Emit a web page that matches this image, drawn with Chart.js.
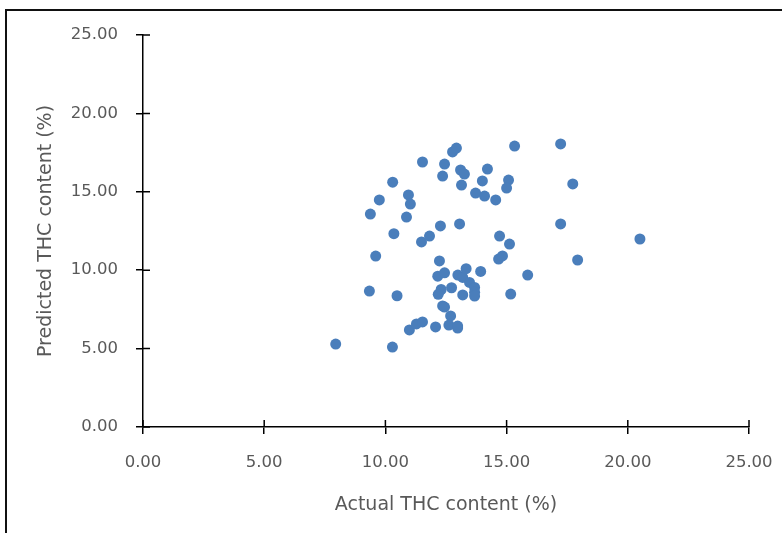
<!DOCTYPE html>
<html>
<head>
<meta charset="utf-8">
<script src="https://cdn.jsdelivr.net/npm/chart.js@4.4.1/dist/chart.umd.min.js"></script>
<style>
  html, body { margin: 0; padding: 0; background: #fff; overflow: hidden; }
  #wrap { position: relative; width: 782px; height: 533px; }
  #frame { position: absolute; left: 5px; top: 9px; right: -5px; bottom: -5px;
           border-left: 2px solid #111; border-top: 2px solid #111; pointer-events: none; }
</style>
</head>
<body>
<div id="wrap">
  <canvas id="chart" width="782" height="533"></canvas>
  <div id="frame"></div>
</div>
<script>
// measured vs predicted THC content (%)
const actualTHC = [
  7.95, 10.29, 9.34, 10.48, 9.6, 9.38, 9.75, 10.3, 10.35, 10.87,
  10.95, 11.03, 11.53, 11.49, 11.82, 10.99, 11.28, 11.53, 12.07, 12.27,
  12.36, 12.44, 12.23, 12.16, 12.44, 12.30, 12.18, 12.36, 12.44, 12.73,
  12.69, 12.62, 12.98, 12.98, 12.77, 12.93, 13.06, 13.1, 13.26, 13.14,
  12.99, 13.19, 13.33, 13.19, 13.47, 13.68, 13.68, 13.68, 13.72, 14.0,
  14.21, 14.09, 13.93, 14.55, 14.71, 14.67, 14.83, 15.08, 15.0, 15.12,
  15.17, 15.33, 15.87, 17.23, 17.23, 17.73, 17.93, 20.5
];
const predictedTHC = [
  5.29, 5.10, 8.67, 8.37, 10.9, 13.58, 14.48, 15.61, 12.33, 13.39,
  14.8, 14.22, 16.9, 11.8, 12.18, 6.19, 6.57, 6.70, 6.38, 12.82,
  16.0, 16.77, 10.59, 9.62, 9.83, 8.77, 8.46, 7.72, 7.65, 8.88,
  7.08, 6.50, 6.31, 6.44, 17.54, 17.79, 12.95, 16.39, 16.13, 15.43,
  9.69, 9.54, 10.10, 8.42, 9.22, 8.90, 8.59, 8.35, 14.92, 15.69,
  16.45, 14.73, 9.92, 14.48, 12.18, 10.71, 10.91, 15.75, 15.24, 11.67,
  8.48, 17.92, 9.69, 18.05, 12.95, 15.5, 10.65, 11.99
];
const tickValues = [0, 5, 10, 15, 20, 25];

const tickFont = { family: '"DejaVu Sans", sans-serif', size: 16.5 };
const titleFont = { family: '"DejaVu Sans", sans-serif', size: 19 };
const labelColor = '#595959';

// ticks that cross the axis line (inner half; outer half is Chart.js' own tick)
const crossTicks = {
  id: 'crossTicks',
  afterDraw(chart) {
    const { ctx, chartArea, scales } = chart;
    ctx.save();
    ctx.strokeStyle = '#000';
    ctx.lineWidth = 1.5;
    ctx.beginPath();
    tickValues.forEach(v => {
      const x = scales.x.getPixelForValue(v);
      ctx.moveTo(x, chartArea.bottom);
      ctx.lineTo(x, chartArea.bottom - 7);
      const y = scales.y.getPixelForValue(v);
      ctx.moveTo(chartArea.left, y);
      ctx.lineTo(chartArea.left + 7, y);
    });
    ctx.stroke();
    ctx.restore();
  }
};

new Chart(document.getElementById('chart'), {
  type: 'scatter',
  data: {
    datasets: [{
      label: 'THC',
      data: actualTHC.map((x, i) => ({ x: x, y: predictedTHC[i] })),
      backgroundColor: '#4A7EBB',
      borderColor: '#4A7EBB',
      pointRadius: 5.5,
      pointBorderWidth: 0
    }]
  },
  options: {
    responsive: false,
    animation: false,
    layout: { padding: { top: 35, right: 33, left: 0, bottom: 0 } },
    plugins: {
      legend: { display: false },
      tooltip: { enabled: false }
    },
    scales: {
      x: {
        type: 'linear',
        min: 0, max: 25,
        afterBuildTicks: s => { s.ticks = tickValues.map(v => ({ value: v })); },
        afterFit: s => { s.height = 106; s.paddingRight = 0; s.paddingLeft = 0; },
        ticks: {
          padding: 19,
          color: labelColor,
          font: tickFont,
          callback: v => v.toFixed(2)
        },
        grid: { drawOnChartArea: false, tickLength: 7, color: '#000', lineWidth: 1.5 },
        border: { color: '#000', width: 1.5 },
        title: {
          display: true,
          text: 'Actual THC content (%)',
          color: labelColor,
          font: titleFont,
          padding: { top: 0, bottom: 17 }
        }
      },
      y: {
        type: 'linear',
        min: 0, max: 25,
        afterBuildTicks: s => { s.ticks = tickValues.map(v => ({ value: v })); },
        afterFit: s => { s.width = 143; },
        ticks: {
          padding: 18,
          color: labelColor,
          font: tickFont,
          callback: v => v.toFixed(2)
        },
        grid: { drawOnChartArea: false, tickLength: 7, color: '#000', lineWidth: 1.5 },
        border: { color: '#000', width: 1.5 },
        title: {
          display: true,
          text: 'Predicted THC content (%)',
          color: labelColor,
          font: titleFont,
          padding: { top: 35, bottom: 0 }
        }
      }
    }
  },
  plugins: [crossTicks]
});
</script>
</body>
</html>
